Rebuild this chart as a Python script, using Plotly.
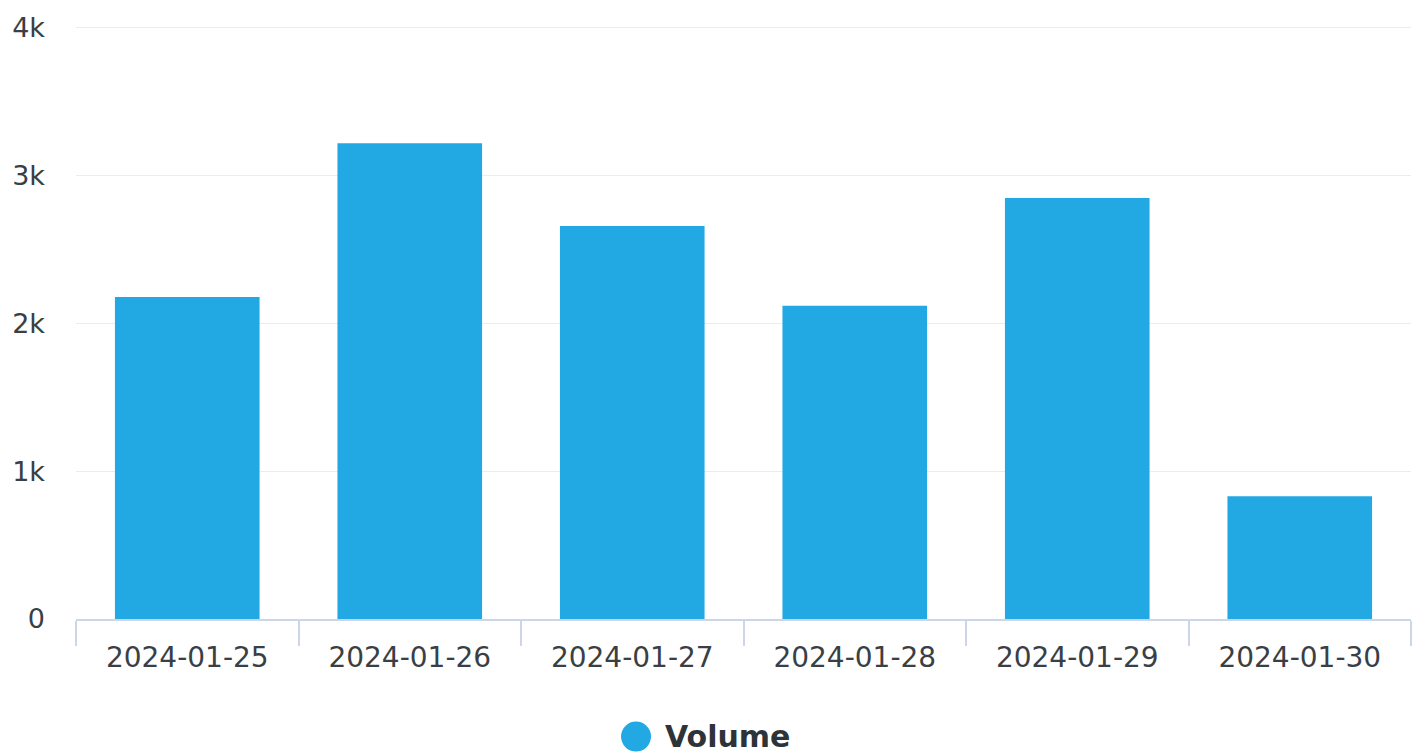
import plotly.graph_objects as go

# Daily volume
dates = ["2024-01-25", "2024-01-26", "2024-01-27", "2024-01-28", "2024-01-29", "2024-01-30"]
volume = [2180, 3220, 2660, 2120, 2850, 830]
y_ticks = [0, 1000, 2000, 3000, 4000]
y_tick_labels = ["0", "1k", "2k", "3k", "4k"]
series_name = "Volume"

BAR_COLOR = "#22a9e3"
AXIS_COLOR = "#ccd6eb"
TEXT_COLOR = "#3a3f45"
FONT = "DejaVu Sans"

fig = go.Figure()
fig.add_trace(go.Bar(
    x=dates,
    y=volume,
    name=series_name,
    marker=dict(color=BAR_COLOR, line=dict(width=0)),
    showlegend=False,
))

fig.update_layout(
    width=1423,
    height=756,
    margin=dict(l=75, r=12, t=20, b=137),
    paper_bgcolor="white",
    plot_bgcolor="white",
    bargap=0.35,
    font=dict(family=FONT, size=27, color=TEXT_COLOR),
    xaxis=dict(
        type="category",
        tickson="boundaries",
        ticks="outside",
        ticklen=25,
        tickwidth=1.5,
        tickcolor=AXIS_COLOR,
        showline=True,
        linecolor=AXIS_COLOR,
        linewidth=2,
        showgrid=False,
        ticklabelstandoff=12,
        tickfont=dict(family=FONT, size=28, color=TEXT_COLOR),
    ),
    yaxis=dict(
        range=[0, 4020],
        tickvals=y_ticks,
        ticktext=y_tick_labels,
        showgrid=True,
        gridcolor="#ececec",
        gridwidth=1,
        zeroline=False,
        showline=False,
        ticks="",
        ticklabelstandoff=30,
        tickfont=dict(family=FONT, size=27, color=TEXT_COLOR),
    ),
)

# Legend entry: round swatch plus bold series name, centred under the plot
fig.add_shape(
    type="circle",
    xref="paper", yref="paper",
    xsizemode="pixel", ysizemode="pixel",
    xanchor=0.4195, yanchor=-0.198,
    x0=-15, x1=15, y0=-15, y1=15,
    fillcolor=BAR_COLOR,
    line=dict(width=0),
)
fig.add_annotation(
    xref="paper", yref="paper",
    x=0.4395, y=-0.198,
    xanchor="left", yanchor="middle",
    text="<b>" + series_name + "</b>",
    showarrow=False,
    font=dict(family=FONT, size=30, color="#2e3338"),
)

fig.write_html("out.html")
